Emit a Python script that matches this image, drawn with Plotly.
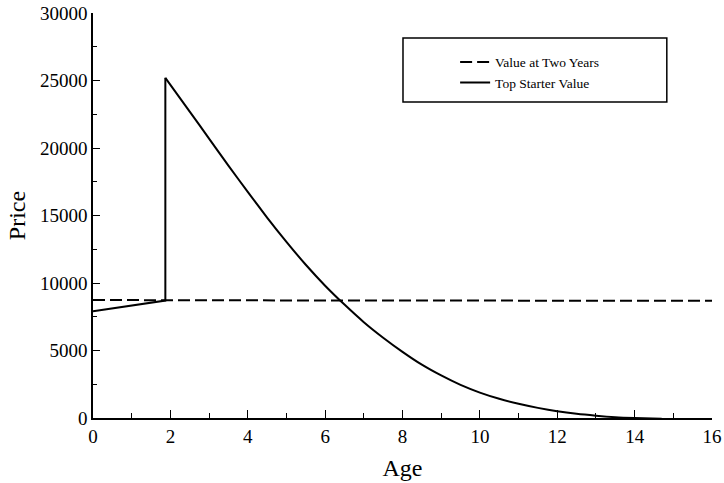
import plotly.graph_objects as go

# Value at two years (flat reference)
two_year_age = [0, 2, 16]
two_year_price = [8750, 8720, 8680]

# Top starter value: rising to age ~1.9, jump, then decay
top_age = [0, 1.87, 1.87, 2.5, 3.0, 3.5, 4.0, 4.5, 5.0, 5.5, 6.0, 6.5,
           7.0, 7.5, 8.0, 8.5, 9.0, 9.5, 10.0, 10.5, 11.0, 11.5, 12.0,
           12.5, 13.0, 13.5, 14.0, 14.7]
top_price = [7900, 8700, 25200, 22700, 20700, 18700, 16750, 14850, 13050,
             11350, 9800, 8400, 7100, 5950, 4900, 3950, 3150, 2450, 1880,
             1420, 1050, 750, 500, 310, 170, 60, 0, -50]

x_ticks = list(range(0, 17, 2))
y_ticks = list(range(0, 30001, 5000))

FONT = "Liberation Serif"

fig = go.Figure()

fig.add_trace(go.Scatter(
    x=two_year_age, y=two_year_price, mode="lines",
    name="Value at Two Years",
    line=dict(color="black", width=2, dash="12px,5px"),
))

# pre-jump segment and vertical jump (linear)
fig.add_trace(go.Scatter(
    x=top_age[:3], y=top_price[:3], mode="lines",
    name="Top Starter Value", legendgroup="top", showlegend=False,
    line=dict(color="black", width=2),
))
# smooth decay from the peak
fig.add_trace(go.Scatter(
    x=top_age[2:], y=top_price[2:], mode="lines",
    name="Top Starter Value", legendgroup="top",
    line=dict(color="black", width=2, shape="spline", smoothing=0.6),
))

axis_common = dict(
    showline=True, linecolor="black", linewidth=1.5,
    ticks="inside", tickcolor="black", tickwidth=1.2,
    showgrid=False, zeroline=False, automargin=False,
    tickfont=dict(family=FONT, size=19, color="black"),
)

fig.update_xaxes(
    range=[0, 16], tickvals=x_ticks, ticklen=8,
    minor=dict(dtick=1, ticks="inside", ticklen=5, tickcolor="black", tickwidth=1.2),
    title=dict(text="Age", font=dict(family=FONT, size=24, color="black"), standoff=14),
    **axis_common,
)
fig.update_yaxes(
    range=[0, 30000], tickvals=y_ticks, tickformat="d", ticklen=7,
    minor=dict(dtick=2500, ticks="inside", ticklen=4, tickcolor="black", tickwidth=1.2),
    title=dict(text="Price", font=dict(family=FONT, size=24, color="black"), standoff=8),
    **axis_common,
)

# legend frame
fig.add_shape(type="rect", xref="paper", yref="paper",
              x0=0.5008, x1=0.927, y0=0.780, y1=0.938,
              line=dict(color="black", width=1.5), fillcolor="rgba(0,0,0,0)")

fig.update_layout(
    width=724, height=483,
    margin=dict(l=93, r=12, t=13, b=65),
    paper_bgcolor="white", plot_bgcolor="white",
    font=dict(family=FONT, color="black"),
    legend=dict(x=0.585, y=0.917, xanchor="left", yanchor="top",
                bgcolor="rgba(0,0,0,0)", borderwidth=0,
                font=dict(family=FONT, size=13.5, color="black"),
                tracegroupgap=0),
)

fig.write_html("out.html")
